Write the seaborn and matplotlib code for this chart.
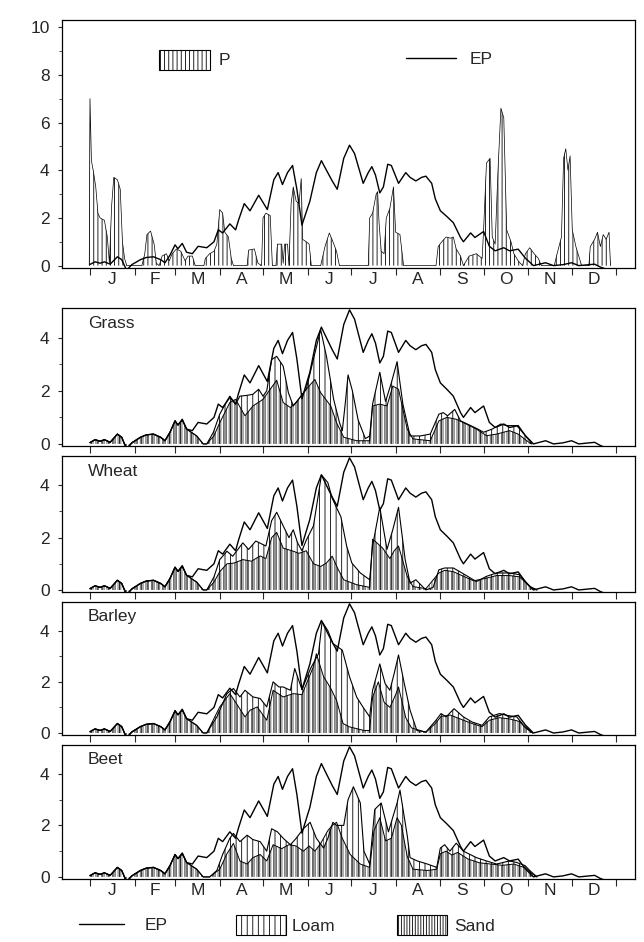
import matplotlib
matplotlib.use("Agg")
import matplotlib.pyplot as plt
import matplotlib.patches as mpatches
import matplotlib.lines as mlines
import seaborn as sns

# ---- data (day of year, mm/day) ----
month_start = [0, 31, 59, 90, 120, 151, 181, 212, 243, 273, 304, 334, 365]
month_mid = [15.5, 45, 74.5, 105, 135.5, 166, 196.5, 227.5, 258, 288.5, 319, 349.5]
month_lab = ["J", "F", "M", "A", "M", "J", "J", "A", "S", "O", "N", "D"]

ep_day = [0, 3.5, 7, 10, 14, 19, 22, 25.4, 29, 35, 39, 44, 49, 52, 55.5, 59, 61, 64, 67, 71,
          75, 81, 86, 89, 92, 97, 101, 103, 107, 111, 117, 123, 127.5, 130.5, 133.5, 137,
          140.5, 143.5, 147, 152.5, 157, 160.5, 164, 168, 171.5, 176, 180, 183.5, 189.5, 193,
          195.5, 198, 201, 203.5, 206.5, 209, 214, 219, 222, 226, 230, 233, 237, 239.5, 243,
          247.5, 252, 257, 259, 264, 267, 273, 277, 281, 287, 291, 297, 302, 307.6, 316,
          321.5, 328, 334, 339, 350, 354, 360]
ep_val = [0.05, 0.16, 0.1, 0.16, 0.06, 0.37, 0.25, -0.19, 0.04, 0.25, 0.34, 0.37, 0.25, 0.12,
          0.44, 0.87, 0.71, 0.93, 0.56, 0.5, 0.81, 0.75, 1.0, 1.5, 1.37, 1.75, 1.5, 1.9, 2.6,
          2.3, 2.95, 2.35, 3.6, 3.9, 3.4, 3.9, 4.2, 3.2, 1.7, 2.7, 3.9, 4.4, 4.0, 3.55, 3.2,
          4.5, 5.05, 4.7, 3.45, 3.9, 4.15, 3.8, 3.05, 3.3, 4.25, 4.2, 3.45, 3.9, 3.7, 3.55,
          3.7, 3.75, 3.45, 2.8, 2.3, 2.06, 1.8, 1.18, 1.0, 1.37, 1.18, 1.43, 0.81, 0.62, 0.75,
          0.62, 0.69, 0.31, 0.0, 0.12, 0.0, 0.04, 0.12, 0.0, 0.06, -0.06, -0.19]

p_day = [-0.5, 0, 1, 2.5, 4, 5.5, 7, 10, 12, 13.5, 15, 16.5, 19, 21, 22.5, 24, 25.5, 36, 38,
         39.5, 42, 44.5, 46, 48, 50, 53, 55, 57, 60, 63, 66, 68, 71, 73, 79, 80, 83, 86, 88,
         90, 92, 93.5, 96, 98, 99.5, 109, 110, 114, 116.5, 119, 120, 122, 125, 126.5, 129,
         130, 133, 134, 135, 137, 138, 139.5, 141, 143, 145, 146.5, 147.5, 150, 152, 153.5,
         160, 163, 166, 168.5, 171, 173, 193, 194, 196, 198.5, 199.5, 200.5, 202, 204, 205.5,
         208, 210.5, 212, 215, 217.5, 240, 241.5, 244, 247, 250, 252, 254, 257, 259, 263,
         268, 272, 273, 275, 277.5, 279, 281, 283, 285, 287, 289, 292, 294, 297, 300, 302,
         305, 308, 311, 313, 322, 324, 327, 328.5, 330, 331.5, 333, 334.5, 337, 339, 341,
         346, 347, 350, 352, 354, 356, 358, 360, 361]
p_val = [0, 7.0, 4.4, 3.9, 3.3, 2.2, 2.0, 1.9, 1.2, 0.1, 2.5, 3.7, 3.6, 3.2, 1.0, 0.3, 0, 0,
         0.5, 1.3, 1.45, 0.9, 0.1, 0, 0.4, 0.5, 0.2, 0.5, 0.7, 0.6, 0.2, 0.4, 0.4, 0, 0, 0.3,
         0.5, 0.6, 0.9, 2.35, 2.2, 1.4, 1.2, 0.3, 0, 0, 0.65, 0.7, 0.1, 0, 2.0, 2.2, 2.1, 0,
         0, 0.9, 0.9, 0.1, 0.9, 0.9, 0, 2.6, 3.3, 2.7, 2.6, 3.65, 1.1, 1.0, 0.9, 0, 0, 0.8,
         1.37, 1.0, 0.6, 0, 0, 2.0, 2.2, 3.0, 3.1, 1.8, 0.6, 0.5, 2.0, 2.4, 3.3, 1.4, 1.3, 0,
         0, 0.8, 1.0, 1.2, 1.15, 1.2, 0.7, 0.4, 0, 0.4, 0.5, 0.3, 1.5, 4.3, 4.5, 1.2, 0.9,
         4.0, 6.6, 6.2, 1.5, 1.0, 0.5, 0.2, 0, 0.5, 0.75, 0.5, 0.3, 0, 0, 0.5, 1.2, 4.5, 4.9,
         4.0, 4.6, 1.5, 0.8, 0.4, 0, 0, 0.8, 1.1, 1.4, 0.8, 1.3, 1.1, 1.4, 0]

# actual evaporation, identical for all crops and soils until mid March
early_day = [0, 3.5, 7, 10, 14, 19, 22, 25.4, 29, 35, 39, 44, 49, 52, 55.5, 59, 61, 64, 67,
             74, 78.5]
early_val = [0.05, 0.16, 0.1, 0.16, 0.06, 0.37, 0.25, -0.19, 0.04, 0.25, 0.34, 0.37, 0.25,
             0.12, 0.44, 0.87, 0.71, 0.9, 0.56, 0.3, 0.0]

grass_loam_day = early_day + [81, 85.6, 90, 95, 97, 101, 104, 109, 113, 117, 120, 122.6, 126,
                              129.5, 134, 137.6, 141, 144.6, 150, 155, 160, 164, 169, 173,
                              175, 177, 179, 182, 186, 191, 194, 196, 201, 205, 209, 213, 217,
                              222, 229, 236, 242, 245, 248, 253, 257, 264, 269, 273, 279, 285,
                              289, 296, 302, 306.6]
grass_loam_val = early_val + [0, 0.44, 1.12, 1.62, 1.8, 1.5, 1.8, 1.83, 1.87, 2.06, 1.8, 2.0,
                              3.18, 3.3, 2.93, 1.93, 1.43, 1.68, 2.06, 3.2, 4.3, 3.3, 1.68,
                              0.81, 0.5, 1.5, 2.6, 2.0, 0.9, 0.2, 0.3, 1.5, 2.7, 1.6, 2.3, 3.1,
                              1.5, 0.3, 0.3, 0.37, 1.12, 1.18, 1.06, 1.3, 0.87, 0.69, 0.56,
                              0.44, 0.56, 0.75, 0.69, 0.69, 0.31, 0]
grass_sand_day = early_day + [81, 86, 90, 97, 101, 107.5, 113, 120, 125, 129.5, 134, 139, 143,
                              150, 156, 160, 167, 171, 176, 185, 194, 196, 201, 206, 210, 214,
                              220, 224, 236, 242, 247.5, 254, 261, 268, 275, 282, 291, 297,
                              303, 306]
grass_sand_val = early_val + [0, 0.31, 0.8, 1.56, 1.68, 1.06, 1.43, 1.68, 2.06, 2.4, 1.56,
                              1.37, 1.56, 2.06, 2.43, 1.93, 1.43, 0.8, 0.25, 0.12, 0.12, 1.43,
                              1.5, 1.43, 2.18, 2.06, 0.56, 0.19, 0.12, 0.87, 1.0, 0.93, 0.75,
                              0.56, 0.31, 0.37, 0.5, 0.37, 0.12, 0]

wheat_loam_day = early_day + [81, 86, 90, 95, 99, 106, 110, 115, 122, 126, 129.5, 134, 138,
                              141, 144, 147, 150, 155, 158, 160.5, 165, 168, 174, 178, 181.6,
                              187.5, 194, 196, 201, 206, 210, 214, 218.6, 222, 226, 233, 238,
                              242, 246, 252, 258, 268, 275, 282, 291, 298, 305, 310]
wheat_loam_val = early_val + [0, 0.5, 1.16, 1.48, 1.29, 1.8, 1.55, 1.87, 1.68, 2.65, 2.97,
                              2.45, 2.0, 2.3, 1.8, 1.5, 1.9, 2.45, 3.5, 4.4, 4.1, 3.5, 2.8,
                              1.68, 1.03, 0.65, 0.39, 1.68, 3.16, 1.55, 2.3, 3.16, 1.16, 0.26,
                              0.39, 0, 0.1, 0.77, 0.84, 0.84, 0.65, 0.32, 0.52, 0.65, 0.65,
                              0.58, 0.13, 0]
wheat_sand_day = early_day + [81, 86, 90, 95, 100, 106, 112, 118, 122, 126, 129.5, 134, 140,
                              145, 150, 155, 160, 164, 168, 172, 176, 185, 194, 196, 199, 203,
                              208, 211, 214, 220, 224, 233, 242, 246, 252, 258, 266, 275, 282,
                              291, 298, 305, 310]
wheat_sand_val = early_val + [0, 0.3, 0.7, 1.0, 1.03, 1.16, 1.1, 1.3, 1.2, 2.0, 2.2, 1.6,
                              1.5, 1.4, 1.5, 1.0, 0.9, 1.03, 1.29, 0.8, 0.39, 0.2, 0.1, 1.94,
                              1.8, 1.6, 1.2, 1.5, 1.68, 0.52, 0.13, 0.05, 0.65, 0.75, 0.7,
                              0.55, 0.35, 0.45, 0.55, 0.55, 0.5, 0.13, 0]

barley_loam_day = early_day + [81, 88, 95, 99.5, 104, 107.5, 113, 118, 122.6, 127, 131, 134,
                               139, 142, 147, 153, 158.5, 161, 165, 168.5, 175, 180, 185,
                               189.5, 194, 196, 201, 204.7, 208, 211, 214, 218, 222, 226.7,
                               233, 240, 243.5, 247, 252.5, 259, 265, 272, 277, 284, 289,
                               296, 300.7, 307]
barley_loam_val = early_val + [0, 0.63, 1.54, 1.74, 1.41, 1.67, 1.41, 1.35, 1.02, 2.0, 1.8,
                               1.8, 1.67, 2.52, 1.7, 2.52, 3.1, 4.35, 4.0, 3.5, 3.24, 2.2,
                               1.4, 1.0, 0.63, 1.67, 2.7, 1.93, 1.67, 2.33, 3.05, 1.93, 0.89,
                               0.1, 0.04, 0.5, 0.76, 0.63, 0.95, 0.63, 0.43, 0.3, 0.63, 0.76,
                               0.69, 0.63, 0.3, 0]
barley_sand_day = early_day + [81, 90, 97, 101, 107.5, 111, 116, 122.6, 127, 134, 141, 147,
                               155, 157, 162, 166.5, 171, 175.5, 180, 190, 194, 196, 200, 204,
                               208, 212, 214, 219, 223, 233, 240, 243.5, 250, 259, 266, 272,
                               277, 284, 291, 298, 302, 307]
barley_sand_val = early_val + [0, 1.02, 1.54, 1.2, 0.63, 0.89, 1.02, 0.5, 1.67, 1.41, 1.54,
                               1.5, 2.6, 3.1, 2.2, 1.8, 1.28, 0.37, 0.24, 0.1, 0.1, 1.4, 2.0,
                               1.2, 1.0, 1.5, 1.8, 0.6, 0.2, 0.03, 0.4, 0.65, 0.7, 0.5, 0.35,
                               0.25, 0.5, 0.6, 0.55, 0.45, 0.2, 0]

beet_loam_day = early_day + [83, 88, 92, 97, 99.5, 104, 109, 113, 118, 122.6, 126, 130, 134,
                             139, 143, 148, 152.7, 157, 162, 165, 168.5, 171, 176, 179, 182.7,
                             185, 187.5, 190, 194, 197.5, 202, 207, 211, 213, 215, 220, 222,
                             227, 234, 240.5, 243, 246, 249.6, 254, 259, 268, 275, 282, 291,
                             296, 301.7, 305, 310]
beet_loam_val = early_val + [0, 0.25, 0.87, 1.5, 1.69, 1.37, 1.62, 1.45, 1.37, 1.0, 1.87,
                             1.75, 1.5, 1.25, 1.5, 1.87, 2.12, 1.5, 1.12, 1.5, 2.12, 2.0, 2.0,
                             3.0, 3.5, 3.2, 2.87, 1.0, 0.5, 2.62, 2.87, 1.75, 2.5, 2.87, 3.37,
                             1.62, 0.75, 0.62, 0.5, 0.37, 1.12, 1.25, 1.0, 1.31, 1.0, 0.75,
                             0.62, 0.5, 0.62, 0.56, 0.44, 0.25, 0]
beet_sand_day = early_day + [83, 90, 95, 99.5, 104, 109, 113, 118, 122.6, 127, 133, 138, 143,
                             148, 152, 156, 160, 165, 168, 171, 175, 180.5, 187.5, 194, 197,
                             201, 205, 209, 213, 216, 220, 224, 234, 240.5, 243, 247, 251,
                             255, 262, 270, 278, 286, 294, 302, 306, 310]
beet_sand_val = early_val + [0, 0.3, 0.9, 1.3, 0.62, 0.5, 0.75, 0.87, 0.62, 1.25, 1.1, 1.25,
                             1.2, 1.0, 1.2, 1.0, 1.3, 1.8, 2.0, 2.12, 1.5, 0.87, 0.5, 0.37,
                             1.8, 2.3, 1.4, 1.5, 2.3, 2.0, 0.8, 0.3, 0.25, 0.3, 0.9, 1.0,
                             0.85, 0.95, 0.7, 0.55, 0.5, 0.45, 0.5, 0.35, 0.15, 0]

crops = ["Grass", "Wheat", "Barley", "Beet"]
loam_days = [grass_loam_day, wheat_loam_day, barley_loam_day, beet_loam_day]
loam_vals = [grass_loam_val, wheat_loam_val, barley_loam_val, beet_loam_val]
sand_days = [grass_sand_day, wheat_sand_day, barley_sand_day, beet_sand_day]
sand_vals = [grass_sand_val, wheat_sand_val, barley_sand_val, beet_sand_val]

# ---- style ----
sns.set_style("ticks")
plt.rcParams["font.family"] = ["Liberation Sans", "DejaVu Sans"]
plt.rcParams["font.size"] = 12.5
plt.rcParams["hatch.linewidth"] = 0.6
plt.rcParams["axes.linewidth"] = 0.9

LOAM_HATCH = "|||"
SAND_HATCH = "||||||"
P_HATCH = "||||"

fig = plt.figure(figsize=(6.44, 9.42), dpi=100)
left, width = 0.0963, 0.8897
ax_top = fig.add_axes([left, 0.7155, width, 0.2633])
boxes = [[left, 0.5265, width, 0.1465],
         [left, 0.3715, width, 0.1444],
         [left, 0.2197, width, 0.1412],
         [left, 0.0669, width, 0.1422]]
crop_axes = [fig.add_axes(b) for b in boxes]


def hatched_area(ax, days, vals, hatch, color, lw):
    ax.fill_between(days, 0, vals, facecolor="none", edgecolor=color,
                    hatch=hatch, linewidth=0)
    sns.lineplot(x=days, y=vals, ax=ax, color="black", lw=lw,
                 estimator=None, sort=False)


def style_axis(ax, yticks, ylim, labels):
    ax.set_xlim(-19.4, 378)
    ax.set_ylim(*ylim)
    ax.set_yticks(yticks)
    ax.set_yticks([v + 1 for v in yticks[:-1]], minor=True)
    ax.set_xticks(month_start)
    ax.set_xticklabels([])
    ax.set_xticks(month_mid, minor=True)
    if labels:
        ax.set_xticklabels(month_lab, minor=True)
    ax.tick_params(axis="x", which="major", direction="out", length=5, width=0.8)
    ax.tick_params(axis="x", which="minor", length=0, pad=3)
    ax.tick_params(axis="y", which="major", length=3, width=0.8, pad=6)
    ax.tick_params(axis="y", which="minor", length=2, width=0.6)
    ax.set_xlabel("")
    ax.set_ylabel("")
    for s in ax.spines.values():
        s.set_visible(True)
        s.set_color("black")


# ---- top panel: precipitation and potential evaporation ----
hatched_area(ax_top, p_day, p_val, P_HATCH, "black", 0.5)
sns.lineplot(x=ep_day, y=ep_val, ax=ax_top, color="black", lw=1.0,
             estimator=None, sort=False)
style_axis(ax_top, [0, 2, 4, 6, 8, 10], (-0.1, 10.3), True)

p_handle = mpatches.Patch(facecolor="white", edgecolor="black", hatch=P_HATCH, lw=0.8)
leg1 = ax_top.legend(handles=[p_handle], labels=["P"], loc="center left",
                     bbox_to_anchor=(0.17, 0.84), frameon=False, handlelength=2.9,
                     handleheight=1.4, handletextpad=0.5, borderpad=0, borderaxespad=0)
ax_top.add_artist(leg1)
ep_handle = mlines.Line2D([], [], color="black", lw=1.0)
ax_top.legend(handles=[ep_handle], labels=["EP"], loc="center left",
              bbox_to_anchor=(0.6, 0.84), frameon=False, handlelength=2.9,
              handletextpad=0.8, borderpad=0, borderaxespad=0)

# ---- crop panels ----
for i, ax in enumerate(crop_axes):
    hatched_area(ax, sand_days[i], sand_vals[i], SAND_HATCH, "0.3", 0.7)
    hatched_area(ax, loam_days[i], loam_vals[i], LOAM_HATCH, "black", 0.8)
    sns.lineplot(x=ep_day, y=ep_val, ax=ax, color="black", lw=1.0,
                 estimator=None, sort=False)
    style_axis(ax, [0, 2, 4], (-0.08, 5.12), i == len(crop_axes) - 1)
    ax.text(0.045, 0.945, crops[i], transform=ax.transAxes, ha="left", va="top",
            fontsize=12.5)

# ---- bottom legend ----
ep_leg = fig.legend(handles=[mlines.Line2D([], [], color="black", lw=1.0)], labels=["EP"],
                    loc="center left", bbox_to_anchor=(0.122, 0.018), frameon=False,
                    handlelength=2.6, handletextpad=1.2, borderpad=0, borderaxespad=0)
loam_leg = fig.legend(handles=[mpatches.Patch(facecolor="white", edgecolor="black",
                                              hatch=LOAM_HATCH, lw=0.8)],
                      labels=["Loam"], loc="center left", bbox_to_anchor=(0.366, 0.018),
                      frameon=False, handlelength=2.9, handleheight=1.45,
                      handletextpad=0.3, borderpad=0, borderaxespad=0)
sand_leg = fig.legend(handles=[mpatches.Patch(facecolor="white", edgecolor="black",
                                              hatch=SAND_HATCH, lw=0.8)],
                      labels=["Sand"], loc="center left", bbox_to_anchor=(0.616, 0.018),
                      frameon=False, handlelength=2.9, handleheight=1.45,
                      handletextpad=0.4, borderpad=0, borderaxespad=0)

fig.savefig("out.png", dpi=100)
